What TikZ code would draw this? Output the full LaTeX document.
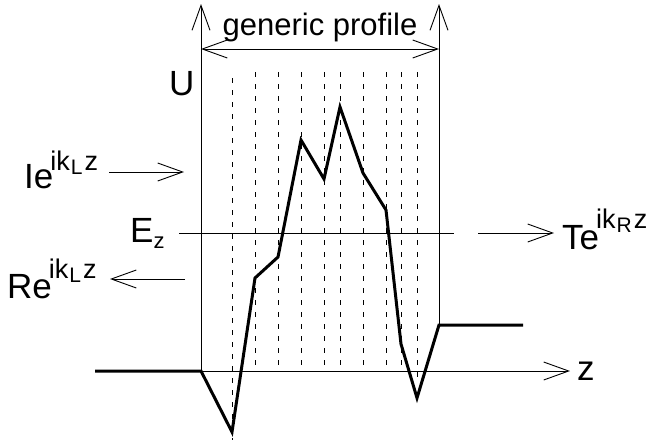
\documentclass[tikz,border=0pt]{standalone}
\usepackage{fontspec}
\setmainfont{Liberation Sans}
\usetikzlibrary{arrows.meta}
\newcommand{\fsz}[1]{\fontsize{#1}{#1}\selectfont}
\newcommand{\wexp}[2]{\raisebox{#1}{\fsz{27}ik\hspace{1pt}\raisebox{-4pt}{\fsz{21}#2}\hspace{2pt}z}}
\begin{document}
\begin{tikzpicture}[x=1pt,y=-1pt,
  thin line/.style={line width=0.9pt},
  barb/.style={-{Straight Barb[length=25pt,width=18pt,line width=0.9pt]}},
  profile/.style={line width=3pt},
  grid line/.style={line width=0.9pt,dash pattern=on 5pt off 7pt},
  lbl/.style={inner sep=0pt,anchor=base west}]
\useasboundingbox (0,0) rectangle (650,442);
% coordinates
\coordinate (lb) at (201,371);
\coordinate (lt) at (201,4);
\coordinate (rb) at (439,325);
\coordinate (rt) at (439,4);
\coordinate (gl) at (201,49);
\coordinate (gr) at (439,49);
\coordinate (zs) at (201,371);
\coordinate (ze) at (570,371);
\coordinate (el) at (179,233);
\coordinate (er) at (454,233);
\coordinate (ts) at (478,233);
\coordinate (te) at (554,233);
\coordinate (is) at (109,172);
\coordinate (ie) at (184,172);
\coordinate (rs) at (185,279);
\coordinate (re) at (110,279);
% dashed slicing lines
\foreach \xx/\ya/\yb in {232/78/440,255/72/371,278/72/371,301/72/371,324/72/371,340/72/371,363/72/371,386/72/371,401/72/371,417/72/380}
  \draw[grid line] (\xx,\ya) -- (\xx,\yb);
% axes and frame
\draw[thin line,barb] (lb) -- (lt);
\draw[thin line,barb] (rb) -- (rt);
\draw[thin line,{Straight Barb[length=25pt,width=18pt,line width=0.9pt]}-{Straight Barb[length=25pt,width=18pt,line width=0.9pt]}] (gl) -- (gr);
\draw[thin line,barb] (zs) -- (ze);
\draw[thin line] (el) -- (er);
\draw[thin line,barb] (ts) -- (te);
\draw[thin line,barb] (is) -- (ie);
\draw[thin line,barb] (rs) -- (re);
% profile
\draw[profile] (95,371) -- (201,371) -- (232,432) -- (255,278) -- (278,257) -- (301,140) -- (324,179) -- (340,107) -- (363,173) -- (386,210) -- (401,344) -- (417,398) -- (439,325) -- (523,325);
% labels
\node[inner sep=0pt,anchor=base] (gp) at (320,35) {\fsz{31}generic profile};
\node[lbl] (U) at (169,95) {\fsz{35}U};
\node[lbl] (Ez) at (130,242) {\fsz{35}E\raisebox{-6pt}{\fsz{22}z}};
\node[lbl] (inc) at (24,188) {\fsz{35}Ie\hspace{-3pt}\wexp{18pt}{L}};
\node[lbl] (refl) at (7,298) {\fsz{35}Re\hspace{-3pt}\wexp{20pt}{L}};
\node[lbl] (trans) at (562,249) {\fsz{35}Te\hspace{-3pt}\wexp{21pt}{R}};
\node[lbl] (zl) at (577,380) {\fsz{35}z};
\end{tikzpicture}
\end{document}
